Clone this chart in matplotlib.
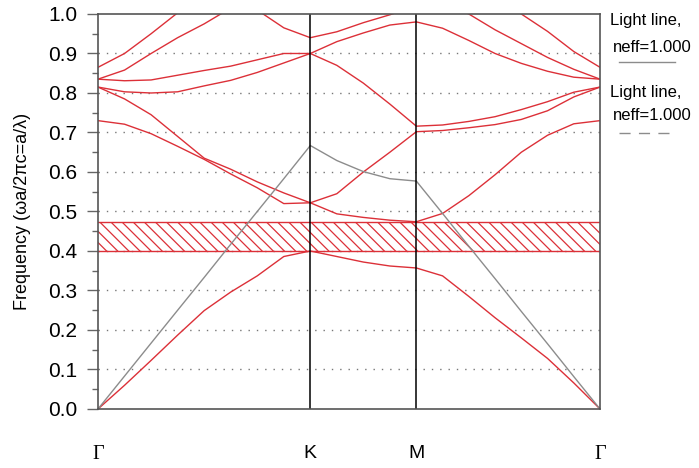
import numpy as np
import matplotlib.pyplot as plt
from matplotlib.lines import Line2D

# k-path: Gamma - K - M - Gamma (units of 2pi/a)
k_ticks = [0.0, 0.667, 1.0, 1.577]
k_names = ['\u0393', 'K', 'M', '\u0393']
n_steps = [8, 4, 7]

# band frequencies (a/lambda), one value per k point
band1 = [0, 0.06, 0.123, 0.187, 0.249, 0.296, 0.337, 0.386, 0.40,
         0.386, 0.372, 0.362, 0.357,
         0.337, 0.285, 0.231, 0.18, 0.128, 0.066, 0]
band2 = [0.73, 0.721, 0.697, 0.665, 0.632, 0.595, 0.56, 0.52, 0.522,
         0.494, 0.485, 0.478, 0.474,
         0.495, 0.54, 0.593, 0.65, 0.693, 0.722, 0.73]
band3 = [0.815, 0.785, 0.745, 0.69, 0.635, 0.607, 0.575, 0.547, 0.522,
         0.545, 0.60, 0.65, 0.702,
         0.705, 0.712, 0.72, 0.733, 0.755, 0.79, 0.815]
band4 = [0.815, 0.803, 0.80, 0.803, 0.818, 0.832, 0.852, 0.876, 0.90,
         0.87, 0.825, 0.772, 0.716,
         0.719, 0.728, 0.74, 0.758, 0.778, 0.802, 0.815]
band5 = [0.835, 0.831, 0.833, 0.845, 0.857, 0.868, 0.884, 0.90, 0.90,
         0.93, 0.952, 0.972, 0.98,
         0.964, 0.933, 0.90, 0.875, 0.855, 0.84, 0.835]
band6 = [0.835, 0.858, 0.90, 0.94, 0.975, 1.015, 1.01, 0.965, 0.94,
         0.955, 0.978, 0.998, 1.02,
         1.03, 1.0, 0.96, 0.925, 0.89, 0.86, 0.835]
band7 = [0.865, 0.90, 0.95, 1.003, 1.06, np.nan, np.nan, np.nan, np.nan,
         np.nan, np.nan, np.nan, np.nan,
         np.nan, np.nan, 1.05, 1.0, 0.956, 0.905, 0.865]
light_line = [0, 0.0833, 0.1667, 0.25, 0.333, 0.417, 0.5, 0.583, 0.667,
              0.629, 0.601, 0.583, 0.577,
              0.495, 0.412, 0.33, 0.247, 0.165, 0.082, 0]

gap = [0.401, 0.474]

# k grid along the path
k = np.concatenate([np.linspace(k_ticks[0], k_ticks[1], n_steps[0] + 1),
                    np.linspace(k_ticks[1], k_ticks[2], n_steps[1] + 1)[1:],
                    np.linspace(k_ticks[2], k_ticks[3], n_steps[2] + 1)[1:]])

red = '#dc3038'
plt.rcParams['font.family'] = 'Liberation Sans'
plt.rcParams['hatch.linewidth'] = 0.9

fig = plt.figure(figsize=(6.99, 4.68), dpi=100)
ax = fig.add_axes([0.1402, 0.1261, 0.7182, 0.844])

# band gap
ax.fill_between([k_ticks[0], k_ticks[-1]], gap[0], gap[1], facecolor='none',
                edgecolor=red, hatch='\\\\\\', linewidth=0)
ax.axhline(gap[0], color=red, lw=1)
ax.axhline(gap[1], color=red, lw=1)

# dotted grid
for y in np.arange(1, 10) / 10:
    ax.axhline(y, color='#777777', lw=1, linestyle=(0, (1, 5)), zorder=0.5)

for b in [band1, band2, band3, band4, band5, band6, band7]:
    ax.plot(k, b, color=red, lw=1)
ax.plot(k, light_line, color='#8c8c8c', lw=1)

for kt in k_ticks[1:3]:
    ax.axvline(kt, color='black', lw=1.1)

ax.set_xlim(k_ticks[0], k_ticks[-1])
ax.set_ylim(0, 1)
ax.set_yticks(np.arange(0, 11) / 10)
ax.set_yticks(np.arange(0, 21) / 20, minor=True)
ax.set_yticklabels(['%.1f' % v for v in np.arange(0, 11) / 10], fontsize=15)
ax.tick_params(axis='y', which='major', direction='out', length=8, width=1,
               color='#666666', pad=7)
ax.tick_params(axis='y', which='minor', direction='out', length=4.5, width=1,
               color='#666666')
ax.set_xticks(k_ticks)
ax.set_xticklabels(k_names, fontsize=14)
ax.tick_params(axis='x', length=0, pad=26)
for lab, name in zip(ax.get_xticklabels(), k_names):
    if name == '\u0393':
        lab.set_fontfamily('Liberation Serif')
        lab.set_fontsize(14.5)
for s in ax.spines.values():
    s.set_color('#555555')
    s.set_linewidth(1.2)

ax.set_ylabel('Frequency (\u03c9a/2\u03c0c=a/\u03bb)', fontsize=13, labelpad=12)

# legend drawn at the right
fig.text(610 / 699, 1 - 21 / 468, 'Light line,', fontsize=12, va='center')
fig.text(613 / 699, 1 - 47 / 468, 'neff=1.000', fontsize=12, va='center')
fig.add_artist(Line2D([619 / 699, 675 / 699], [1 - 62 / 468, 1 - 62 / 468],
                      color='#8c8c8c', lw=1))
fig.text(610 / 699, 1 - 92 / 468, 'Light line,', fontsize=12, va='center')
fig.text(613 / 699, 1 - 116 / 468, 'neff=1.000', fontsize=12, va='center')
fig.add_artist(Line2D([619 / 699, 675 / 699], [1 - 133 / 468, 1 - 133 / 468],
                      color='#8c8c8c', lw=1, linestyle=(0, (8, 6))))

fig.savefig('out.png', dpi=100)
